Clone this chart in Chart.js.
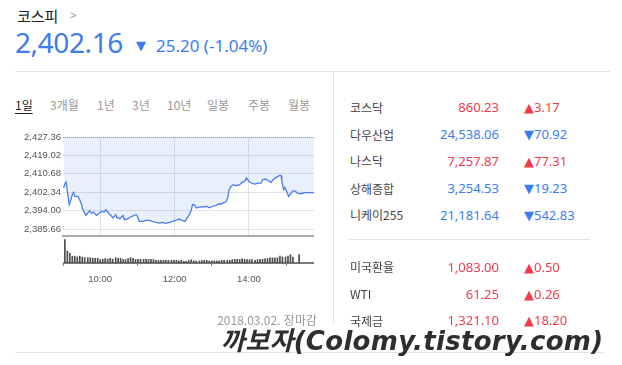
<!DOCTYPE html>
<html lang="ko">
<head>
<meta charset="utf-8">
<script src="https://cdn.jsdelivr.net/npm/chart.js@4"></script>
<style>
  body { margin: 0; width: 622px; height: 365px; background: #fff; position: relative; overflow: hidden;
         font-family: "Noto Sans CJK KR", "Noto Sans", sans-serif; }
  .a { position: absolute; white-space: nowrap; line-height: 1; }
  .kr { font-family: "Noto Sans CJK KR", sans-serif; }
  .num { font-family: "Noto Sans", "Noto Sans CJK KR", sans-serif; }
  .tri { font-family: "DejaVu Sans", sans-serif; }
  .blue { color: #3d7cf0; }
  .red { color: #f23a4c; }
  .tab { font-size: 12px; color: #999; top: 99px; }
  .name { font-size: 12px; color: #444; left: 350px; }
  .val { font-size: 13px; right: 123px; }
  .chg { font-size: 13px; left: 524px; }
  .line { position: absolute; background: #e3e3e3; }
  canvas { position: absolute; }
</style>
</head>
<body>

<div class="a kr" style="left:17px;top:8px;font-size:15px;color:#222;">코스피</div>
<div class="a" style="left:70px;top:10px;font-size:11px;color:#999;font-family:'Liberation Sans';">&gt;</div>
<div class="a num blue" style="left:15px;top:28px;font-size:28px;letter-spacing:-0.4px;">2,402.16</div>
<div class="a blue" style="left:136px;top:38px;font-size:13px;"><span class="tri">▼</span></div>
<div class="a num blue" style="left:156px;top:37px;font-size:17px;">25.20 (-1.04%)</div>

<div class="line" style="left:15px;top:71px;width:595px;height:1px;"></div>
<div class="line" style="left:333px;top:72px;width:1px;height:251px;"></div>
<div class="line" style="left:348px;top:239px;width:242px;height:1px;"></div>
<div class="line" style="left:15px;top:352px;width:590px;height:1px;"></div>

<div class="a kr tab" style="left:15px;color:#222;text-decoration:underline;text-underline-offset:3px;">1일</div>
<div class="a kr tab" style="left:50px;">3개월</div>
<div class="a kr tab" style="left:97px;">1년</div>
<div class="a kr tab" style="left:132px;">3년</div>
<div class="a kr tab" style="left:167px;">10년</div>
<div class="a kr tab" style="left:207px;">일봉</div>
<div class="a kr tab" style="left:248px;">주봉</div>
<div class="a kr tab" style="left:288px;">월봉</div>

<canvas id="priceChart" width="314" height="119" style="left:0;top:127px;"></canvas>
<canvas id="volChart" width="251" height="52" style="left:63px;top:237px;"></canvas>

<div class="a kr" style="right:305px;top:314px;font-size:12px;color:#999;">2018.03.02. 장마감</div>

<div class="a kr name" style="top:102px;">코스닥</div>
<div class="a num val red" style="top:101px;">860.23</div>
<div class="a num chg red" style="top:101px;"><span class="tri">▲</span>3.17</div>

<div class="a kr name" style="top:129px;">다우산업</div>
<div class="a num val blue" style="top:128px;">24,538.06</div>
<div class="a num chg blue" style="top:128px;"><span class="tri">▼</span>70.92</div>

<div class="a kr name" style="top:155px;">나스닥</div>
<div class="a num val red" style="top:155px;">7,257.87</div>
<div class="a num chg red" style="top:155px;"><span class="tri">▲</span>77.31</div>

<div class="a kr name" style="top:183px;">상해종합</div>
<div class="a num val blue" style="top:182px;">3,254.53</div>
<div class="a num chg blue" style="top:182px;"><span class="tri">▼</span>19.23</div>

<div class="a kr name" style="top:209px;">니케이255</div>
<div class="a num val blue" style="top:209px;">21,181.64</div>
<div class="a num chg blue" style="top:209px;"><span class="tri">▼</span>542.83</div>

<div class="a kr name" style="top:261px;">미국환율</div>
<div class="a num val red" style="top:261px;">1,083.00</div>
<div class="a num chg red" style="top:261px;"><span class="tri">▲</span>0.50</div>

<div class="a kr name" style="top:288px;">WTI</div>
<div class="a num val red" style="top:288px;">61.25</div>
<div class="a num chg red" style="top:288px;"><span class="tri">▲</span>0.26</div>

<div class="a kr name" style="top:315px;">국제금</div>
<div class="a num val red" style="top:314px;">1,321.10</div>
<div class="a num chg red" style="top:314px;"><span class="tri">▲</span>18.20</div>

<div class="a" style="left:221px;top:328px;font-size:26px;letter-spacing:0.3px;font-weight:bold;font-style:italic;color:#2e2e2e;font-family:'DejaVu Sans','Noto Sans CJK KR',sans-serif;">까보자(Colomy.tistory.com)</div>

<script>
// ---------- DATA ----------
const prevClose = 2427.36;
const yTicks = [2385.66, 2394.00, 2402.34, 2410.68, 2419.02, 2427.36];
const xTickTimes = ["10:00", "12:00", "14:00"];

const priceTimes = ["09:01","09:03","09:05","09:10","09:12","09:15","09:17","09:19","09:24","09:27",
  "09:30","09:32","09:37","09:40","09:43","09:46","09:49","09:54","09:59","10:02",
  "10:06","10:09","10:12","10:16","10:21","10:25","10:27","10:32","10:37","10:39",
  "10:45","10:50","10:55","10:58","11:01","11:03","11:09","11:14","11:20","11:24",
  "11:28","11:31","11:35","11:40","11:45","11:52","11:57","12:03","12:08","12:12",
  "12:17","12:20","12:24","12:27","12:29","12:32","12:35","12:40","12:47","12:52",
  "12:56","13:02","13:07","13:10","13:15","13:20","13:23","13:26","13:28","13:31",
  "13:35","13:39","13:45","13:49","13:53","13:56","14:00","14:04","14:09","14:14",
  "14:20","14:22","14:27","14:31","14:36","14:39","14:44","14:49","14:52","14:53",
  "14:56","14:58","15:01","15:04","15:07","15:11","15:15","15:19","15:24","15:30","15:45"];
const priceValues = [2404.24,2406.05,2406.96,2396.67,2398.17,2401.20,2402.25,2400.43,2400.43,2398.94,
  2396.67,2394.40,2391.82,2392.91,2393.95,2392.73,2393.36,2391.82,2392.91,2393.63,
  2393.36,2394.40,2393.36,2392.14,2390.64,2392.14,2390.91,2390.33,2391.82,2389.87,
  2390.33,2391.23,2391.82,2392.14,2390.91,2389.10,2389.10,2389.55,2389.55,2389.10,
  2388.83,2388.65,2388.38,2388.65,2388.19,2388.65,2389.10,2389.74,2390.19,2389.55,
  2389.10,2390.64,2392.14,2394.40,2396.67,2396.67,2395.18,2395.63,2395.76,2395.90,
  2395.31,2396.08,2396.22,2396.99,2396.99,2397.71,2397.90,2399.98,2403.47,2404.97,
  2405.74,2405.28,2405.74,2406.78,2407.23,2408.77,2407.23,2406.51,2406.05,2406.33,
  2406.51,2408.00,2408.32,2407.55,2406.78,2408.00,2409.05,2409.82,2409.82,2407.23,
  2403.47,2404.51,2402.70,2400.43,2401.52,2403.02,2402.70,2401.79,2401.66,2402.16,2402.16];

const volTimes = ["09:03","09:07","09:11","09:15","09:19","09:23","09:27","09:31","09:35","09:40",
  "09:44","09:48","09:52","09:56","10:00","10:04","10:08","10:12","10:16","10:20",
  "10:25","10:29","10:33","10:37","10:41","10:45","10:49","10:53","10:57","11:01",
  "11:05","11:10","11:14","11:18","11:22","11:26","11:30","11:34","11:38","11:42",
  "11:46","11:50","11:55","11:59","12:03","12:07","12:11","12:15","12:19","12:23",
  "12:27","12:31","12:35","12:40","12:44","12:48","12:52","12:56","13:00","13:04",
  "13:08","13:12","13:16","13:20","13:25","13:29","13:33","13:37","13:41","13:45",
  "13:49","13:53","13:57","14:01","14:05","14:10","14:14","14:18","14:22","14:26",
  "14:30","14:34","14:38","14:42","14:46","14:50","14:54","14:59","15:03","15:07","15:11","15:21"];
const volValues = [2600,1330,1100,770,770,670,770,670,600,600,
  600,530,530,530,370,430,500,430,530,430,
  600,530,530,370,370,500,600,530,400,400,
  400,400,400,400,400,400,300,300,300,300,
  300,300,300,300,300,230,300,200,200,270,
  370,230,230,230,270,300,300,230,230,230,
  230,230,300,300,300,300,370,400,400,400,
  470,400,370,370,370,300,370,400,430,470,
  500,570,570,570,570,770,670,670,770,930,670,930];

// ---------- HELPERS ----------
const toMin = t => { const [h, m] = t.split(":").map(Number); return (h - 9) * 60 + m; };
const toTime = m => `${Math.floor(m / 60) + 9}:${String(m % 60).padStart(2, "0")}`;
const axisFont = { family: "Liberation Sans", size: 9.5 };
const X_MAX = toMin("15:45");

// ---------- PRICE CHART ----------
new Chart(document.getElementById("priceChart"), {
  type: "line",
  data: {
    datasets: [{
      data: priceTimes.map((t, i) => ({ x: toMin(t), y: priceValues[i] })),
      borderColor: "#4a7cf0",
      borderWidth: 1.3,
      backgroundColor: "rgba(70,120,225,0.12)",
      fill: "end",
      pointRadius: 0,
      tension: 0
    }, {
      data: [{ x: 0, y: prevClose }, { x: X_MAX, y: prevClose }],
      borderColor: "#555",
      borderWidth: 1,
      borderDash: [1, 1],
      fill: false,
      pointRadius: 0
    }]
  },
  options: {
    responsive: false,
    animation: false,
    devicePixelRatio: 1,
    layout: { padding: { top: 10, bottom: 10, left: 0, right: 0 } },
    plugins: { legend: { display: false }, tooltip: { enabled: false } },
    scales: {
      x: {
        type: "linear", min: 0, max: X_MAX,
        afterBuildTicks: s => { s.ticks = xTickTimes.map(t => ({ value: toMin(t) })); },
        ticks: { display: false },
        grid: { color: "#dfe3e8", drawTicks: false },
        border: { color: "#aaa", width: 2 }
      },
      y: {
        min: 2382.5, max: prevClose,
        afterBuildTicks: s => { s.ticks = yTicks.map(v => ({ value: v })); },
        afterFit: s => { s.width = 63; },
        ticks: {
          color: "#555", font: axisFont, padding: 2,
          callback: v => v.toLocaleString("en-US", { minimumFractionDigits: 2, maximumFractionDigits: 2 })
        },
        grid: { color: "#dfe3e8", drawTicks: false },
        border: { display: false }
      }
    }
  }
});

// ---------- VOLUME CHART ----------
new Chart(document.getElementById("volChart"), {
  type: "bar",
  data: {
    datasets: [{
      data: volTimes.map((t, i) => ({ x: toMin(t), y: volValues[i] })),
      backgroundColor: "#4d4d4d",
      barThickness: 1
    }]
  },
  options: {
    responsive: false,
    animation: false,
    devicePixelRatio: 1,
    layout: { padding: 0 },
    plugins: { legend: { display: false }, tooltip: { enabled: false } },
    scales: {
      x: {
        type: "linear", min: 0, max: X_MAX, offset: false,
        afterBuildTicks: s => { s.ticks = xTickTimes.map(t => ({ value: toMin(t) })); },
        ticks: { color: "#555", font: axisFont, padding: 8, maxRotation: 0, callback: v => toTime(v) },
        grid: { drawOnChartArea: false, tickLength: 3, color: "#888" },
        border: { color: "#7a7a7a", width: 2 }
      },
      y: { display: false, min: 0, max: 2900 }
    }
  }
});
</script>
</body>
</html>
